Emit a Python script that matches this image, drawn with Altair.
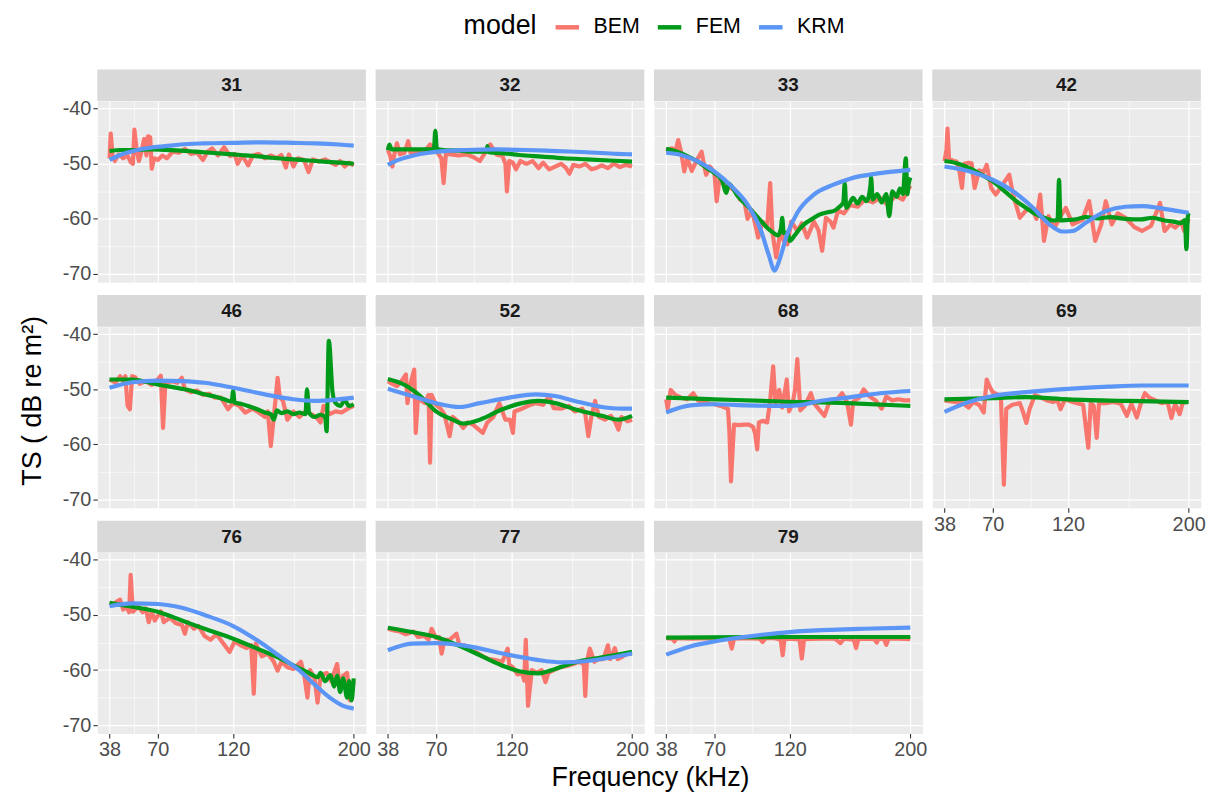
import altair as alt
import pandas as pd

PANELS = ["31", "32", "33", "42", "46", "52", "68", "69", "76", "77", "79"]
MODELS = ["BEM", "FEM", "KRM"]
COLORS = ["#F8766D", "#009A1A", "#5B95F5"]
X_MAJOR = [38, 70, 120, 200]
X_MINOR = [54, 95, 160]
Y_MAJOR = [-70, -60, -50, -40]
Y_MINOR = [-65, -55, -45]
X_DOMAIN = [29.9, 208.1]
Y_DOMAIN = [-71.5, -38.65]

# ---- panel 31
BEM_31 = [(38, -49.0), (38.8, -44.5), (40, -48.5), (41.5, -49.5), (44, -48.3), (47, -49.0), (50, -48.5),
          (52, -49.7), (53.5, -50.0), (54.5, -43.8), (56, -47.5), (57.5, -49.5), (59, -48.0), (61, -45.5),
          (62.5, -48.5), (63.5, -45.0), (65, -45.2), (66, -50.9), (67.5, -49.0), (70, -49.3), (73, -48.5),
          (76, -49.0), (80, -47.8), (84, -48.0), (88, -47.3), (92, -48.2), (96, -48.0), (100, -49.3),
          (103, -47.8), (106, -47.2), (110, -48.5), (114, -47.0), (118, -48.6), (121, -48.2), (123, -50.0),
          (126, -48.5), (130, -50.3), (133, -48.5), (137, -48.2), (141, -49.0), (145, -48.5), (149, -49.0),
          (152, -48.4), (155, -50.7), (157, -48.3), (160, -50.5), (163, -49.0), (167, -49.3), (170, -51.5),
          (173, -49.2), (177, -49.6), (181, -49.2), (185, -49.8), (188, -50.2), (191, -49.5), (194, -50.5),
          (197, -49.8), (200, -50.3)]
FEM_31 = [(38, -47.7), (45, -47.5), (55, -47.5), (65, -47.4), (75, -47.5), (85, -47.6), (95, -47.8),
          (105, -48.0), (115, -48.2), (125, -48.4), (135, -48.6), (145, -48.9), (155, -49.1), (165, -49.3),
          (175, -49.5), (185, -49.7), (192, -49.8), (200, -50.0)]
KRM_31 = [(38, -49.3), (45, -48.4), (55, -47.6), (65, -47.1), (75, -46.8), (85, -46.5), (100, -46.3),
          (120, -46.2), (140, -46.1), (160, -46.2), (175, -46.3), (190, -46.5), (200, -46.7)]

# ---- panel 32
BEM_32 = [(38, -47.5), (39.5, -48.5), (41, -50.5), (42.5, -48.0), (44, -46.3), (46, -48.3), (49, -48.0),
          (51.5, -45.9), (53, -48.0), (56, -47.8), (60, -47.9), (63, -47.5), (66, -46.5), (68, -47.3),
          (71, -48.0), (73.5, -49.0), (75, -53.5), (76.5, -48.2), (80, -48.3), (85, -48.5), (90, -48.3),
          (95, -48.8), (99, -49.5), (102, -48.2), (106, -46.5), (110, -48.3), (114, -48.6), (116, -50.0),
          (117, -55.0), (118.5, -49.5), (121, -49.8), (123, -51.0), (126, -49.5), (130, -50.0), (134, -49.5),
          (138, -50.8), (141, -49.8), (145, -51.0), (149, -50.5), (153, -50.0), (156, -50.7), (158.5, -51.8),
          (161, -50.2), (165, -50.5), (169, -50.0), (173, -51.0), (176, -50.8), (180, -50.3), (184, -50.8),
          (188, -50.0), (192, -50.6), (196, -50.2), (200, -50.5)]
FEM_32 = [(38, -47.5), (39, -46.5), (40.5, -47.4), (50, -47.4), (60, -47.4), (68.5, -47.4), (69.5, -44.0),
          (70.5, -47.3), (75, -47.5), (85, -47.6), (95, -47.8), (103.5, -47.8), (104, -46.8), (105, -47.9),
          (115, -48.1), (125, -48.4), (140, -48.7), (155, -49.0), (170, -49.2), (185, -49.4), (200, -49.6)]
KRM_32 = [(38, -50.2), (45, -49.3), (55, -48.5), (65, -48.0), (75, -47.7), (90, -47.5), (110, -47.4),
          (130, -47.5), (150, -47.7), (170, -47.9), (190, -48.2), (200, -48.3)]

# ---- panel 33
BEM_33 = [(38, -47.5), (42, -47.2), (44, -48.0), (46, -45.7), (48, -48.0), (50, -51.4), (52, -49.0),
          (55, -51.3), (58, -49.5), (61.5, -47.8), (63, -50.0), (64.5, -52.0), (67, -50.5), (70, -51.5),
          (71.5, -56.8), (73.5, -52.5), (77, -54.0), (81, -54.4), (84, -55.0), (87, -56.5), (90, -57.0),
          (92, -60.0), (95, -58.5), (99, -63.4), (102, -60.5), (105, -61.5), (107, -53.5), (108.5, -62.5),
          (111, -67.0), (114, -62.0), (116, -64.0), (118.5, -64.6), (121, -60.5), (125, -62.2), (128, -60.8),
          (131.5, -63.4), (136, -60.5), (139, -62.0), (141.5, -65.8), (144, -59.8), (147, -60.5), (149, -61.6),
          (152, -58.5), (156, -59.0), (160, -57.5), (165, -57.8), (170, -56.5), (175, -57.0), (180, -56.2),
          (185, -57.5), (190, -55.8), (195, -56.5), (200, -54.0)]
FEM_33 = [(38, -47.3), (44, -47.7), (52, -48.6), (59, -49.6), (65, -50.8), (70, -51.7), (75, -53.0),
          (78, -55.3), (79.5, -53.6), (85, -55.7), (92, -57.7), (97, -59.2), (101, -60.4), (105, -61.6),
          (109, -62.5), (112, -63.0), (114, -62.0), (115, -59.8), (116, -62.6), (118.5, -62.5), (120, -64.0),
          (123, -63.1), (126, -62.0), (129.5, -61.0), (135, -60.0), (140, -59.2), (145, -58.8), (149, -58.6),
          (153, -57.8), (155.5, -57.0), (156.5, -53.5), (157.5, -58.0), (160, -57.0), (162, -56.2),
          (165, -57.2), (168, -56.0), (171, -56.8), (173.5, -54.0), (174, -52.5), (175, -56.5), (178, -55.5),
          (181, -57.0), (184, -55.5), (186, -59.5), (188, -55.0), (191, -56.0), (193, -54.5), (195, -55.5),
          (197, -49.0), (198, -55.5), (199, -53.5), (200, -52.5)]
KRM_33 = [(38, -48.0), (48, -48.4), (60, -49.7), (70, -51.4), (81, -54.0), (92, -57.4), (101, -62.2),
          (106, -66.5), (110, -69.4), (113, -67.6), (118, -63.0), (125, -58.9), (136, -55.6), (149, -53.8),
          (160, -52.7), (180, -51.7), (200, -51.1)]

# ---- panel 42
BEM_42 = [(38, -49.5), (39.3, -47.5), (40, -43.6), (41, -49.0), (44, -49.5), (46, -49.6), (48, -51.5),
          (49.6, -54.4), (51, -50.0), (54, -49.8), (56, -49.9), (58, -54.4), (61, -51.2), (64, -51.5),
          (66, -50.2), (69, -54.4), (72, -55.6), (76, -54.0), (81, -52.0), (83.5, -55.6), (88, -59.8),
          (92, -58.5), (96, -58.0), (99, -60.0), (101.5, -55.6), (104, -64.0), (107, -59.5), (111, -61.6),
          (115, -59.5), (118.5, -58.0), (123, -61.0), (127, -60.5), (129.5, -60.2), (134, -56.8), (138, -64.0),
          (142, -61.0), (145, -56.8), (149, -61.0), (153, -59.0), (158, -59.8), (164, -61.5), (169, -62.2),
          (175, -61.3), (181, -57.1), (184, -62.2), (188, -61.0), (191, -61.6), (195, -60.5), (197, -62.2),
          (200, -60.0)]
FEM_42 = [(38, -49.5), (46, -49.9), (52, -50.5), (59, -51.4), (64, -52.2), (70, -53.2), (78, -55.0),
          (85.7, -56.8), (92, -58.0), (99, -59.2), (105, -59.9), (110, -60.3), (113, -60.2), (114, -52.9),
          (115, -60.3), (120, -60.2), (125, -60.1), (132, -59.7), (140, -59.9), (148, -59.7), (158, -60.0),
          (168, -60.1), (176, -59.8), (184, -60.3), (190, -60.5), (195, -60.8), (197.5, -60.2), (198.5, -65.5),
          (199.5, -59.5), (200, -58.9)]
KRM_42 = [(38, -50.5), (55, -51.4), (70, -52.9), (83.5, -55.0), (96.7, -58.0), (107.6, -61.0), (116, -62.3),
          (123, -62.2), (131.7, -60.7), (145, -58.6), (158, -57.8), (169, -57.7), (180, -58.0), (191, -58.5),
          (200, -58.9)]

# ---- panel 46
BEM_46 = [(38, -48.2), (42, -48.8), (45, -47.6), (47, -48.5), (48.5, -47.6), (50, -53.0), (51.5, -53.6),
          (53, -47.6), (55, -47.8), (58, -49.0), (62, -48.5), (66, -49.2), (70, -48.2), (72, -47.5),
          (73.5, -57.0), (75, -49.0), (79, -48.5), (83, -48.8), (86, -47.9), (88, -50.0), (92, -50.5),
          (96, -50.2), (100, -51.0), (104, -50.8), (108, -51.5), (112, -51.5), (116.6, -53.6), (120, -52.5),
          (124, -53.0), (128, -54.2), (133, -53.5), (137, -54.2), (141, -55.0), (143, -54.0), (145, -60.3),
          (147, -55.0), (149.5, -47.9), (151, -51.5), (153, -52.0), (156, -55.5), (160, -54.0), (164, -55.0),
          (168, -54.0), (172, -54.5), (175, -55.0), (178, -56.0), (180, -53.0), (184, -54.5), (188, -54.0),
          (192, -54.2), (196, -53.5), (200, -53.0)]
FEM_46 = [(38, -48.2), (53, -48.2), (62, -48.6), (70, -49.1), (78, -49.5), (86, -49.9), (93, -50.3),
          (101, -50.9), (108, -51.3), (114, -51.8), (119, -52.2), (120, -50.3), (121, -52.4), (125, -52.6),
          (130, -53.0), (136, -53.6), (141, -54.2), (145, -54.5), (147, -55.5), (149, -53.8), (152, -54.3),
          (156, -54.0), (160, -54.5), (164, -54.2), (168, -54.5), (169, -50.0), (170.5, -54.3), (174, -55.0),
          (178, -54.6), (181, -55.0), (182, -57.6), (183.5, -41.2), (186, -50.6), (188, -52.5), (191, -53.0),
          (194, -52.0), (197, -53.0), (200, -52.7)]
KRM_46 = [(38, -49.7), (53, -48.7), (70, -48.4), (86, -48.5), (101, -48.8), (120, -49.7), (141, -50.9),
          (160, -51.8), (174, -52.1), (187, -51.9), (200, -51.5)]

# ---- panel 52
BEM_52 = [(38, -48.5), (41, -49.0), (44, -49.4), (47, -48.5), (50, -47.3), (51, -52.5), (53, -49.0),
          (55.5, -46.4), (56.5, -57.9), (58, -51.5), (60, -52.0), (62.7, -52.5), (65, -51.0), (66, -63.3),
          (67, -51.0), (70, -52.8), (73, -53.5), (75.5, -54.5), (79, -58.5), (81, -55.0), (84.6, -55.8),
          (88, -57.0), (91, -56.0), (95, -56.5), (97, -57.0), (101, -57.9), (104, -56.0), (108, -55.0),
          (112, -52.5), (116, -55.5), (119, -55.5), (121, -57.9), (122, -54.0), (127, -53.5), (131, -53.0),
          (136, -52.5), (141, -52.8), (145, -51.2), (148, -53.4), (153, -53.5), (158, -53.0), (162, -54.0),
          (167, -53.5), (169, -54.5), (171, -58.5), (173, -55.0), (175.5, -52.1), (178, -55.0), (182, -55.5),
          (186, -54.8), (189, -56.0), (191, -57.3), (193, -55.0), (197, -55.8), (200, -55.5)]
FEM_52 = [(38, -48.1), (48.5, -49.1), (59.5, -51.2), (70, -54.0), (81, -55.5), (88, -56.2), (99, -55.5),
          (114, -53.6), (127, -52.5), (138, -52.1), (149, -52.5), (162, -53.6), (180, -54.8), (191, -55.5),
          (200, -54.8)]
KRM_52 = [(38, -49.9), (54, -51.2), (70, -52.5), (85.7, -53.2), (99, -52.5), (118.5, -51.5), (136, -50.9),
          (149, -51.2), (162, -52.1), (180, -53.2), (193, -53.5), (200, -53.5)]

# ---- panel 68
BEM_68 = [(38, -51.8), (39, -53.5), (41, -50.1), (44, -51.0), (48, -51.5), (52, -51.8), (56, -50.7),
          (59, -52.0), (63, -52.3), (67, -52.6), (70, -52.7), (74, -53.0), (79, -53.5), (80, -58.0),
          (81, -66.7), (83, -56.4), (86, -56.5), (90, -56.4), (93, -56.4), (95.6, -56.8), (97, -58.0),
          (98.4, -60.9), (99.5, -56.0), (102, -55.7), (105, -56.0), (107, -52.0), (109, -45.8), (110.5, -52.5),
          (113, -50.1), (115, -53.3), (118, -48.2), (119.5, -54.0), (122, -52.5), (123.5, -50.0), (125, -44.5),
          (127, -53.8), (130, -53.0), (134, -50.7), (136, -52.5), (139, -53.5), (143, -54.8), (146, -52.5),
          (150, -52.3), (154.7, -50.7), (158, -52.3), (160.6, -56.4), (162, -52.3), (166, -51.5), (169, -50.0),
          (173, -51.3), (177, -52.0), (181, -53.5), (184, -51.3), (188, -52.0), (192, -51.8), (196, -52.0),
          (200, -52.0)]
FEM_68 = [(38, -51.5), (70, -51.8), (114, -52.2), (158, -52.5), (200, -53.0)]
KRM_68 = [(38, -54.2), (54, -52.9), (70, -52.7), (92, -52.9), (114, -53.0), (125, -52.9), (140, -52.1),
          (158, -51.5), (180, -50.7), (200, -50.3)]

# ---- panel 69
BEM_69 = [(38, -52.0), (45, -52.3), (50, -52.5), (54, -53.3), (57, -52.3), (61, -52.8), (64, -54.2),
          (66, -48.2), (68, -49.5), (70, -50.5), (73.7, -51.0), (75.5, -51.8), (77.4, -67.3), (79, -53.5),
          (83, -52.8), (88, -52.5), (90, -54.0), (92.3, -56.1), (94.5, -53.5), (96, -52.5), (98, -51.0),
          (102, -51.5), (106, -52.0), (110, -52.3), (113, -52.0), (115, -53.6), (118, -51.8), (122, -52.2),
          (126, -52.5), (130, -52.8), (133.4, -60.6), (135, -52.5), (137, -53.0), (139, -58.8), (140.5, -52.5),
          (145, -52.5), (150, -52.3), (155, -52.6), (159, -54.8), (162, -52.6), (165.6, -55.1), (168, -52.8),
          (171, -50.7), (174, -51.5), (178, -52.0), (182, -52.5), (186, -52.3), (188.6, -55.2), (191, -52.6),
          (194, -54.5), (196, -52.5), (198, -52.3)]
FEM_69 = [(38, -51.8), (70, -51.6), (92, -51.4), (120, -51.8), (160, -52.1), (200, -52.3)]
KRM_69 = [(38, -54.1), (54, -52.3), (70, -51.2), (92, -50.5), (120, -49.9), (147, -49.5), (169, -49.3),
          (200, -49.3)]

# ---- panel 76
BEM_76 = [(38, -47.8), (41, -48.0), (43, -47.5), (45, -47.2), (47, -49.0), (49, -48.5), (51, -49.5),
          (52, -42.7), (53.5, -49.4), (57, -48.5), (60, -49.5), (62, -48.8), (64, -51.3), (66, -49.4),
          (68, -51.0), (72, -49.3), (74, -51.3), (78, -50.5), (82, -51.5), (86, -51.8), (88, -53.4),
          (90, -51.3), (94, -52.5), (97, -52.0), (101, -53.8), (105, -54.5), (109, -53.5), (113, -55.0),
          (117.7, -56.7), (121, -54.8), (125, -55.5), (129, -56.0), (132, -55.5), (133.7, -64.3), (135, -55.2),
          (139, -57.5), (143, -57.0), (147, -58.5), (149.5, -60.1), (152, -58.5), (156, -59.5), (160, -59.8),
          (165, -58.5), (167.5, -61.5), (169.3, -65.0), (171, -60.0), (174, -61.5), (176, -65.9), (178, -61.0),
          (182, -60.5), (185, -62.0), (189, -58.9), (191, -63.5), (193, -61.0), (195.6, -60.5), (197.5, -65.5),
          (200, -62.0)]
FEM_76 = [(38, -47.8), (53, -48.5), (70, -49.4), (86, -51.0), (101, -52.5), (120, -54.3), (136, -56.1),
          (152, -58.0), (162.7, -59.5), (171.5, -60.7), (176, -61.3), (178, -60.5), (181, -62.0),
          (184.6, -60.9), (187, -63.0), (189, -61.0), (191, -64.0), (193, -61.5), (195.6, -65.0), (197, -62.0),
          (198.5, -65.5), (200, -61.5)]
KRM_76 = [(38, -48.4), (53, -47.9), (70, -48.0), (86, -48.7), (101, -50.0), (120, -52.0), (136, -54.6),
          (152, -57.7), (162.7, -59.8), (173.6, -62.5), (184.6, -65.1), (193, -66.5), (200, -67.0)]

# ---- panel 77
BEM_77 = [(38, -52.5), (42, -52.8), (46, -53.0), (50, -53.5), (55, -53.0), (58, -54.0), (62, -53.8),
          (65, -54.5), (67, -52.5), (70, -54.2), (72, -54.0), (73.7, -57.0), (75.5, -54.5), (79, -54.5),
          (83.5, -53.4), (85.5, -55.5), (89, -55.5), (93, -56.5), (97, -56.8), (101, -57.5), (105, -58.0),
          (110, -58.2), (114, -58.5), (117.5, -56.1), (118.5, -59.0), (121, -59.5), (124, -60.8), (127, -60.5),
          (128.5, -61.9), (129.5, -54.5), (131, -66.5), (133.5, -60.0), (137, -60.5), (140, -60.0),
          (142.6, -62.2), (144.5, -60.5), (148, -60.0), (152, -59.5), (156, -59.3), (160, -59.0), (165, -58.5),
          (168, -59.0), (169, -64.7), (170, -58.5), (172, -56.1), (175, -58.5), (178, -58.0), (181, -58.0),
          (184, -55.5), (185.5, -58.0), (188.6, -56.0), (190.5, -58.0), (194, -57.5), (197, -57.0),
          (200, -57.0)]
FEM_77 = [(38, -52.3), (54, -53.1), (70, -54.0), (92, -56.4), (114, -59.2), (125, -60.2), (138, -60.6),
          (149, -59.8), (162, -58.6), (180, -57.7), (200, -56.7)]
KRM_77 = [(38, -56.4), (54, -55.2), (70, -55.1), (92, -55.7), (114, -57.0), (136, -58.1), (153.6, -58.6),
          (169, -58.4), (184, -57.8), (200, -57.0)]

# ---- panel 79
BEM_79 = [(38, -54.2), (42, -54.3), (43.5, -54.8), (45, -54.2), (55, -54.3), (65, -54.2), (75, -54.3),
          (80, -54.4), (81.5, -56.1), (83, -54.3), (90, -54.2), (100, -54.3), (102, -54.9), (104, -54.2),
          (110, -54.2), (114, -54.5), (115.3, -57.3), (116.5, -54.4), (122, -54.3), (126.5, -54.5),
          (128, -57.9), (129.5, -54.4), (140, -54.3), (150, -54.3), (153.6, -55.1), (156, -54.3),
          (162.5, -54.5), (164, -56.0), (165.5, -54.4), (172, -54.3), (176, -54.4), (177.7, -55.0),
          (179, -54.3), (182.5, -54.4), (184, -55.4), (185.5, -54.3), (192, -54.3), (200, -54.4)]
FEM_79 = [(38, -54.1), (120, -54.0), (200, -54.0)]
KRM_79 = [(38, -57.2), (54, -55.7), (70, -54.8), (92, -53.9), (120, -53.1), (147, -52.7), (169, -52.5),
          (200, -52.3)]

SERIES = {
    "31": (BEM_31, FEM_31, KRM_31), "32": (BEM_32, FEM_32, KRM_32), "33": (BEM_33, FEM_33, KRM_33),
    "42": (BEM_42, FEM_42, KRM_42), "46": (BEM_46, FEM_46, KRM_46), "52": (BEM_52, FEM_52, KRM_52),
    "68": (BEM_68, FEM_68, KRM_68), "69": (BEM_69, FEM_69, KRM_69), "76": (BEM_76, FEM_76, KRM_76),
    "77": (BEM_77, FEM_77, KRM_77), "79": (BEM_79, FEM_79, KRM_79),
}

rows = []
for p in PANELS:
    for m, pts in zip(MODELS, SERIES[p]):
        for f, v in pts:
            rows.append({"panel": p, "model": m, "f": f, "ts": v})
df = pd.DataFrame(rows)

FONT = "Liberation Sans"
W, H = 270.6, 182.3
STRIP = 32
BOTTOM = {"69", "76", "77", "79"}

def in_list(vals):
    return "indexof([" + ",".join(str(v) for v in vals) + "], datum.value) >= 0"

LEG = alt.Legend(
    title="model", orient="none", legendX=369, legendY=-89, direction="horizontal",
    titleOrient="left", symbolType="stroke", symbolStrokeWidth=4.5, symbolSize=560,
    labelFontSize=21.5, titleFontSize=27, titleFontWeight="normal", titleColor="#000000",
    labelColor="#000000", labelFont=FONT, titleFont=FONT, columnPadding=8, labelOffset=12,
    titlePadding=16, symbolOffset=0,
)

def panel(i, p):
    left = (i % 4) == 0
    bottom = p in BOTTOM
    common = dict(
        grid=True, domain=False, gridColor="#FFFFFF",
        tickColor="#333333", tickWidth=1.1, tickSize=4.5,
        labelColor="#4D4D4D", labelFontSize=20, labelFont=FONT, labelPadding=2,
        labelFlush=False, labelOverlap=False,
        titleFont=FONT, titleFontSize=27, titleFontWeight="normal", titleColor="#000000",
    )
    xaxis_kw = dict(
        values=X_MAJOR + X_MINOR,
        gridWidth={"condition": {"test": in_list(X_MAJOR), "value": 1.2}, "value": 0.6},
        labels=bottom, ticks=bottom,
        labelExpr=in_list(X_MAJOR) + " ? toString(datum.value) : ''",
        tickOpacity={"condition": {"test": in_list(X_MAJOR), "value": 1}, "value": 0},
        **common,
    )
    if p == "77":
        xaxis_kw.update(titleX=276.4, titleY=44, titleBaseline="middle", titleAlign="center")
    yaxis_kw = dict(
        values=Y_MAJOR + Y_MINOR,
        gridWidth={"condition": {"test": in_list(Y_MAJOR), "value": 1.2}, "value": 0.6},
        labels=left, ticks=left,
        labelExpr=in_list(Y_MAJOR) + " ? toString(datum.value) : ''",
        tickOpacity={"condition": {"test": in_list(Y_MAJOR), "value": 1}, "value": 0},
        **common,
    )
    if p == "46":
        yaxis_kw.update(titleX=-65, titleY=74, titleBaseline="middle", titleAlign="center", titleAngle=270)

    enc = dict(
        x=alt.X("f:Q", scale=alt.Scale(domain=X_DOMAIN, nice=False, zero=False),
                axis=alt.Axis(**xaxis_kw), title="Frequency (kHz)" if p == "77" else None),
        y=alt.Y("ts:Q", scale=alt.Scale(domain=Y_DOMAIN, nice=False, zero=False),
                axis=alt.Axis(**yaxis_kw), title="TS ( dB re m\u00b2)" if p == "46" else None),
        color=alt.Color("model:N", scale=alt.Scale(domain=MODELS, range=COLORS), legend=LEG),
    )
    base = alt.Chart(df[df.panel == p])
    layers = []
    for m in MODELS:
        interp = "linear" if m == "BEM" else "monotone"
        layers.append(
            base.transform_filter(alt.datum.model == m)
            .mark_line(strokeWidth=4.2, clip=True, strokeJoin="round", interpolate=interp)
            .encode(**enc)
        )
    lab = pd.DataFrame({"panel": [p]})
    strip = alt.Chart(lab).mark_rect(color="#D9D9D9").encode(
        x=alt.value(0), x2=alt.value(W), y=alt.value(-STRIP), y2=alt.value(0))
    stext = alt.Chart(lab).mark_text(font=FONT, fontSize=19, fontWeight="bold", color="#1A1A1A",
                                     baseline="middle", align="center").encode(
        text="panel:N", x=alt.value(W / 2), y=alt.value(-STRIP / 2))
    return alt.layer(strip, stext, *layers).properties(width=W, height=H)

charts = [panel(i, p) for i, p in enumerate(PANELS)]

chart = alt.concat(*charts, columns=4, spacing={"row": 44.3, "column": 9.4}, bounds="flush").resolve_scale(
    color="shared"
).properties(
    padding={"left": 10, "top": 2, "right": 4, "bottom": 4},
    background="#FFFFFF",
).configure_view(
    fill="#EBEBEB", stroke="transparent"
)

chart.save("out.html", embed_options={"renderer": "svg", "actions": False})
